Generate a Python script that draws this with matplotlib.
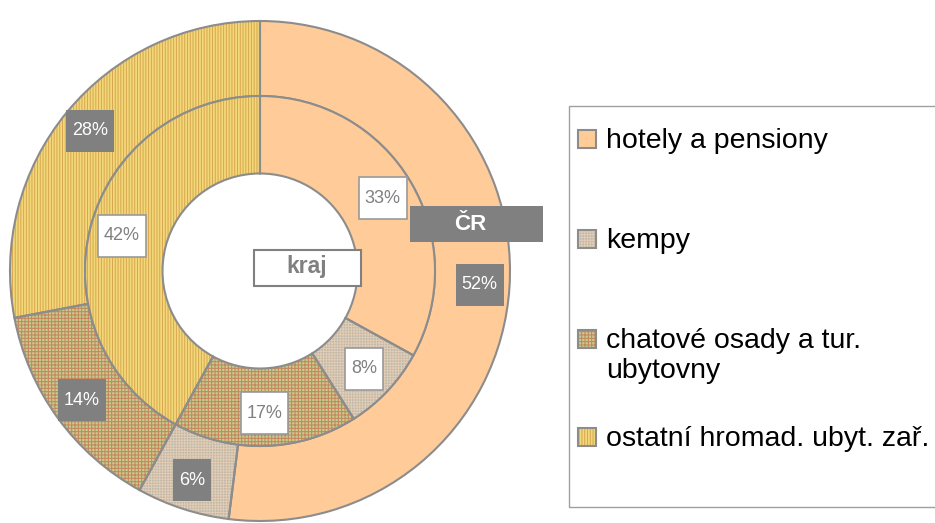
import matplotlib
matplotlib.use('Agg')
import numpy as np
import matplotlib.pyplot as plt
from matplotlib.patches import Rectangle
from matplotlib.transforms import IdentityTransform

plt.rcParams['font.family'] = ['Liberation Sans', 'DejaVu Sans']
plt.rcParams['hatch.linewidth'] = 0.7

# data
categories = ['hotely a pensiony', 'kempy', 'chatové osady a tur.\nubytovny', 'ostatní hromad. ubyt. zař.']
cr_values = [52, 6, 14, 28]      # outer ring, ČR
kraj_values = [33, 8, 17, 42]    # inner ring, kraj

# styles
face = ['#FFCC99', '#BEB8AA', '#C2CC90', '#F2D878']
hatch_col = ['#FFCC99', '#E2CCB4', '#C8845A', '#D8A650']
hatches = [None, '++++++', '+++++', '||||||']
edge_grey = '#8C8C8C'

W, H = 935, 523
fig = plt.figure(figsize=(W / 100, H / 100), dpi=100)

# pie axes: centre ~ (260, 271) px, radius ~ 250 x 255 px
ax = fig.add_axes([10 / W, (H - 526) / H, 500 / W, 510 / H])
ax.set_xlim(-1, 1)
ax.set_ylim(-1, 1)
ax.axis('off')


def ring(values, radius, width):
    # fill + hatch first, then grey outlines on top
    w1, _ = ax.pie(values, radius=radius, startangle=90, counterclock=False,
                   wedgeprops=dict(width=width, linewidth=0))
    for i, w in enumerate(w1):
        w.set_facecolor(face[i])
        w.set_edgecolor(hatch_col[i])
        w.set_linewidth(0)
        if hatches[i]:
            w.set_hatch(hatches[i])
    w2, _ = ax.pie(values, radius=radius, startangle=90, counterclock=False,
                   wedgeprops=dict(width=width, facecolor='none',
                                   edgecolor=edge_grey, linewidth=1.5))
    return w2


outer = ring(cr_values, 1.0, 0.30)
inner = ring(kraj_values, 0.70, 0.31)
ax.set_xlim(-1, 1)
ax.set_ylim(-1, 1)

labels = []


def pct_label(w, val, r, dark):
    ang = np.deg2rad((w.theta1 + w.theta2) / 2)
    t = ax.text(r * np.cos(ang), r * np.sin(ang), f'{val}%', ha='center', va='center',
                fontsize=13, color='white' if dark else '#808080', zorder=6)
    labels.append((t, dark))


for w, v in zip(outer, cr_values):
    pct_label(w, v, 0.88, True)
for w, v in zip(inner, kraj_values):
    pct_label(w, v, 0.57, False)

# boxes behind the percent labels
fig.canvas.draw()
rend = fig.canvas.get_renderer()
for t, dark in labels:
    bb = t.get_window_extent(rend)
    cx, cy = ax.transData.transform(t.get_position())
    bw, bh = bb.width + 12, 42
    ax.add_patch(Rectangle((cx - bw / 2, cy - bh / 2), bw, bh, transform=IdentityTransform(),
                           facecolor='#808080' if dark else 'white',
                           edgecolor='#808080' if dark else '#9A9A9A',
                           linewidth=0 if dark else 1.2, zorder=5, clip_on=False))


def px_rect(x0, y0, x1, y1, **kw):
    fig.add_artist(Rectangle((x0 / W, 1 - y1 / H), (x1 - x0) / W, (y1 - y0) / H,
                             transform=fig.transFigure, **kw))


# series name boxes
px_rect(410, 206, 543, 242, facecolor='#808080', edgecolor='none')
fig.text(470 / W, 1 - 224 / H, 'ČR', ha='center', va='center', fontsize=16,
         fontweight='bold', color='white')
px_rect(254, 250, 361, 286, facecolor='white', edgecolor='#808080', linewidth=1.5)
fig.text(307 / W, 1 - 267 / H, 'kraj', ha='center', va='center', fontsize=16.5,
         fontweight='bold', color='#808080')

# legend
px_rect(569, 106, 940, 507, facecolor='none', edgecolor='#A0A0A0', linewidth=1)
entry_y = [139, 239, 339, 437]
for i, (lab, y) in enumerate(zip(categories, entry_y)):
    px_rect(578, y - 9, 596, y + 9, facecolor=face[i], edgecolor=hatch_col[i],
            linewidth=0, hatch=hatches[i])
    px_rect(578, y - 9, 596, y + 9, facecolor='none', edgecolor='#8C8C8C', linewidth=1.5)
    fig.text(606 / W, 1 - (y - 11) / H, lab, ha='left', va='top', fontsize=20.5,
             color='black', linespacing=1.2)

fig.savefig('out.png', dpi=100)
